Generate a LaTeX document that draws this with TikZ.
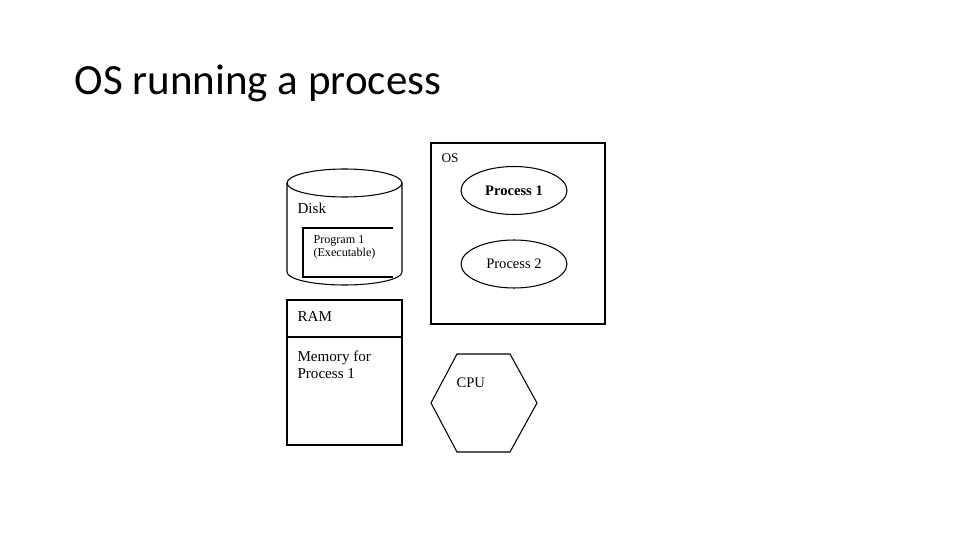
\documentclass[tikz,border=0pt]{standalone}
\usepackage{fontspec}
\setmainfont{Liberation Serif}
\newfontfamily\titlefont{Carlito}
\usetikzlibrary{positioning,shapes.geometric}

\begin{document}
\begin{tikzpicture}[
  x=0.02cm,y=-0.02cm,
  line width=0.6pt,
  txt/.style={
    inner sep=0pt,
    anchor=base west,
    align=left,
    font=\fontsize{8.6}{9.6}\selectfont
  },
  proc/.style={
    draw,
    ellipse,
    inner sep=0pt,
    minimum width=2.12cm,
    minimum height=0.96cm,
    font=\fontsize{8.3}{9}\selectfont
  }
]
  \useasboundingbox (0,0) rectangle (960,540);

  \node[inner sep=0pt,anchor=base west,font=\titlefont\fontsize{24.5}{28}\selectfont]
    (title) at (74,95) {OS running a process};

  % disk
  \draw (344.5,183) ellipse [x radius=57.5,y radius=14];
  \draw (287,183) -- (287,272)
    arc [start angle=180,end angle=0,x radius=57.5,y radius=13]
    -- (402,183);
  \node[txt] (disk) at (297,214) {Disk};
  \draw (393,228) -- (303,228) -- (303,277) -- (393,277);
  \node[txt,font=\fontsize{6.9}{7.6}\selectfont] (prog) at (313,257)
    {Program 1\\(Executable)};

  % memory
  \draw (287,300) rectangle (402,445);
  \draw (287,337) -- (402,337);
  \node[txt,font=\fontsize{8.6}{10}\selectfont] (ram) at (297,322) {RAM};
  \node[txt] (mem) at (297,378) {Memory for\\Process 1};

  % operating system
  \draw (431,143) rectangle (605,324);
  \node[txt,font=\fontsize{7.6}{9}\selectfont] (os) at (441,163) {OS};
  \node[proc] (proc1) at (514,190.5) {\textbf{Process 1}};
  \node[proc] (proc2) at (514,264) {Process 2};

  % processor
  \draw (457,354) -- (510,354) -- (537,403) -- (510,452)
    -- (457,452) -- (431,403) -- cycle;
  \node[txt,font=\fontsize{8.3}{9}\selectfont] (cpu) at (456,388) {CPU};
\end{tikzpicture}
\end{document}
